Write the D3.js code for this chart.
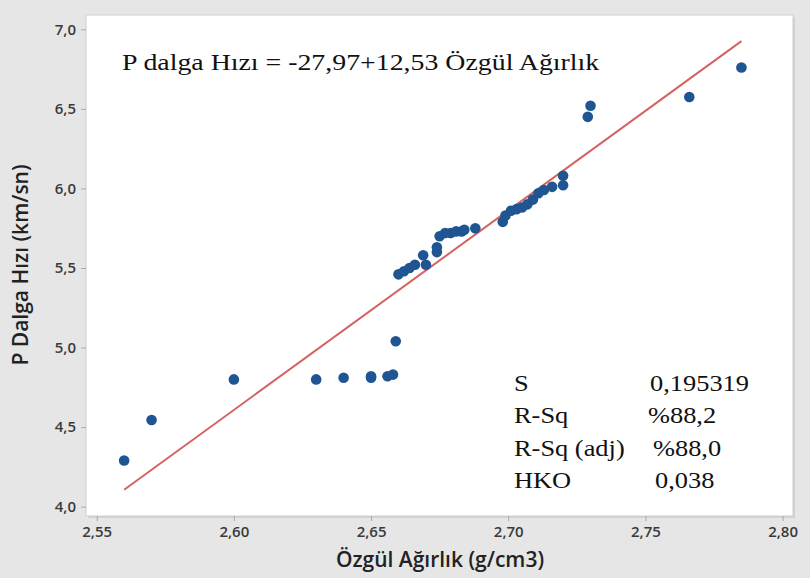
<!DOCTYPE html>
<html>
<head>
  <meta charset='utf-8'>
  <style>
  body { margin: 0; background: #e6e6e6; }
  .tick text { font-family: 'Open Sans', sans-serif; font-weight: 600; font-size: 15px; fill: #3a3a3a; }
  .tick line { stroke: #a8a8a8; }
  .domain { display: none; }
  .title { font-family: 'Open Sans', sans-serif; font-weight: 600; font-size: 21px; fill: #222; }
  .note { font-family: 'Liberation Serif', 'Times New Roman', serif; font-size: 24px; fill: #111; }
  </style>
</head>
<body>
<script src='https://d3js.org/d3.v7.min.js'></script>
<script>

// specific gravity (g/cm3) and P wave velocity (km/sn)
var ozgul = [2.560, 2.570, 2.600, 2.630, 2.640, 2.650, 2.650, 2.656, 2.658, 2.659,
             2.660, 2.662, 2.664, 2.666, 2.669, 2.670, 2.674, 2.674, 2.675, 2.677,
             2.679, 2.681, 2.683, 2.684, 2.688, 2.698, 2.699, 2.701, 2.703, 2.705,
             2.707, 2.709, 2.711, 2.713, 2.716, 2.720, 2.720, 2.729, 2.730, 2.766, 2.785];
var hiz   = [4.29, 4.545, 4.80, 4.80, 4.81, 4.81, 4.82, 4.82, 4.83, 5.04,
             5.46, 5.48, 5.50, 5.52, 5.58, 5.52, 5.60, 5.63, 5.70, 5.72,
             5.72, 5.73, 5.73, 5.74, 5.75, 5.79, 5.83, 5.86, 5.87, 5.88,
             5.90, 5.93, 5.97, 5.99, 6.01, 6.02, 6.08, 6.45, 6.52, 6.575, 6.76];

var fitA = -27.97, fitB = 12.53;
var fitRange = [2.560, 2.785];

var xTicks = [2.55, 2.60, 2.65, 2.70, 2.75, 2.80];
var yTicks = [4.0, 4.5, 5.0, 5.5, 6.0, 6.5, 7.0];

var equation = 'P dalga Hızı = -27,97+12,53 Özgül Ağırlık';
var statNames = ['S', 'R-Sq', 'R-Sq (adj)', 'HKO'];
var statValues = ['0,195319', '%88,2', '%88,0', '0,038'];

var W = 810, H = 578;
var box = {left: 86, right: 793, top: 15, bottom: 516};

var svg = d3.select('body').append('svg')
    .attr('width', W).attr('height', H);

var x = d3.scaleLinear()
    .domain([2.5461, 2.8038])
    .range([box.left, box.right]);

var y = d3.scaleLinear()
    .domain([3.9415, 7.09])
    .range([box.bottom, box.top]);

var comma = function(d) { return d3.format('.2f')(d).replace('.', ','); };
var comma1 = function(d) { return d3.format('.1f')(d).replace('.', ','); };

// plot panel with a faint shadow
svg.append('rect')
    .attr('x', box.left + 2).attr('y', box.top + 2)
    .attr('width', box.right - box.left).attr('height', box.bottom - box.top)
    .attr('fill', '#d2d2d2');
svg.append('rect')
    .attr('x', box.left).attr('y', box.top)
    .attr('width', box.right - box.left).attr('height', box.bottom - box.top)
    .attr('fill', '#fff')
    .attr('stroke', '#cfcfcf');

svg.append('g')
    .attr('transform', 'translate(0,' + box.bottom + ')')
    .call(d3.axisBottom(x).tickValues(xTicks).tickFormat(comma).tickSize(5).tickPadding(5));

svg.append('g')
    .attr('transform', 'translate(' + box.left + ',0)')
    .call(d3.axisLeft(y).tickValues(yTicks).tickFormat(comma1).tickSize(5).tickPadding(5));

svg.append('line')
    .attr('x1', x(fitRange[0])).attr('y1', y(fitA + fitB * fitRange[0]))
    .attr('x2', x(fitRange[1])).attr('y2', y(fitA + fitB * fitRange[1]))
    .attr('stroke', '#d4625f')
    .attr('stroke-width', 2);

svg.append('g').selectAll('circle')
    .data(ozgul)
  .enter().append('circle')
    .attr('cx', function(d) { return x(d); })
    .attr('cy', function(d, i) { return y(hiz[i]); })
    .attr('r', 5.3)
    .attr('fill', '#1f5592');

svg.append('text')
    .attr('class', 'note')
    .attr('transform', 'translate(122,70) scale(1.16,1)')
    .text(equation);

var stats = svg.append('g');
statNames.forEach(function(s, i) {
  stats.append('text')
      .attr('class', 'note')
      .attr('transform', 'translate(514,' + (391 + i * 32.3) + ') scale(1.1,1)')
      .text(s);
});
var valueX = [650, 648, 653, 655];
statValues.forEach(function(s, i) {
  stats.append('text')
      .attr('class', 'note')
      .attr('transform', 'translate(' + valueX[i] + ',' + (391 + i * 32.3) + ') scale(1.1,1)')
      .text(s);
});

svg.append('text')
    .attr('class', 'title')
    .attr('x', 440)
    .attr('y', 567)
    .attr('text-anchor', 'middle')
    .text('Özgül Ağırlık (g/cm3)');

svg.append('text')
    .attr('class', 'title')
    .attr('transform', 'translate(28,265) rotate(-90)')
    .attr('text-anchor', 'middle')
    .text('P Dalga Hızı (km/sn)');

</script>
</body>
</html>
